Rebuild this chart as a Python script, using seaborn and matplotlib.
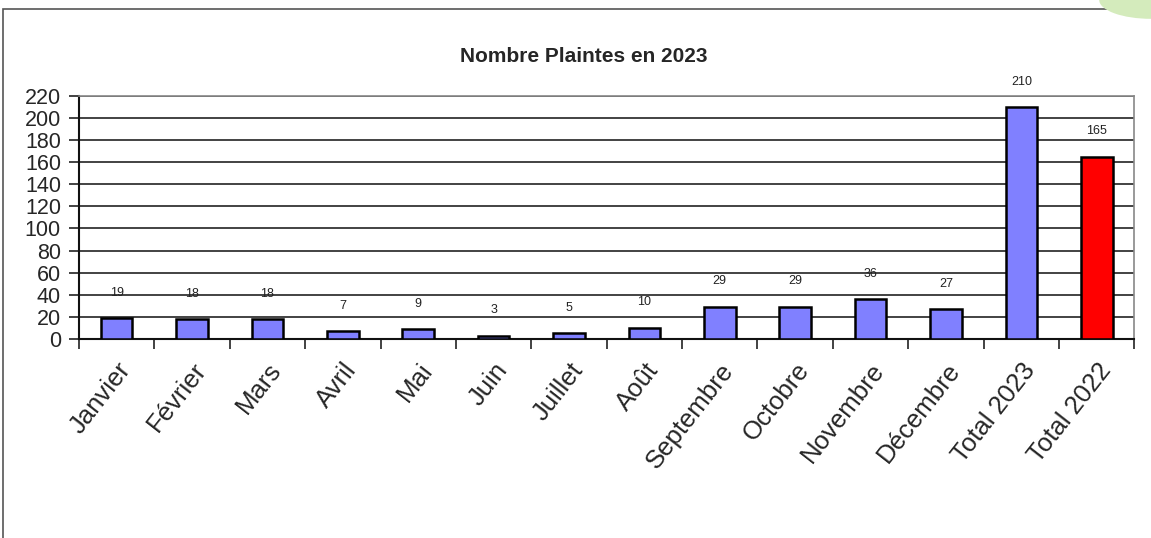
import matplotlib
matplotlib.use("Agg")
import matplotlib.pyplot as plt
import seaborn as sns
import pandas as pd
from matplotlib.patches import Rectangle, Ellipse

# donnees du graphique
mois = ["Janvier", "Février", "Mars", "Avril", "Mai", "Juin", "Juillet", "Août",
        "Septembre", "Octobre", "Novembre", "Décembre", "Total 2023", "Total 2022"]
plaintes = [19, 18, 18, 7, 9, 3, 5, 10, 29, 29, 36, 27, 210, 165]
couleurs = ["#8080FF"] * 13 + ["#FF0000"]
y_ticks = list(range(0, 221, 20))

sns.set_theme(style="white")
plt.rcParams['font.family'] = ['Liberation Sans', 'DejaVu Sans']

df = pd.DataFrame({"mois": mois, "plaintes": plaintes})

fig = plt.figure(figsize=(11.51, 5.38), dpi=100)
ax = fig.add_axes([0.0686, 0.370, 0.917, 0.4517])

sns.barplot(data=df, x="mois", y="plaintes", hue="mois", palette=couleurs,
            saturation=1, legend=False, width=0.42, edgecolor="black",
            linewidth=1.8, ax=ax, zorder=3)

# etiquettes de valeurs
for i, v in enumerate(plaintes):
    ax.annotate(str(v), (i, v), xytext=(0, 14), textcoords="offset points",
                ha="center", va="bottom", fontsize=9, color="#222222")

ax.set_ylim(0, 220)
ax.set_xlim(-0.5, len(mois) - 0.5)
ax.set_yticks(y_ticks)
ax.set_yticklabels([str(t) for t in y_ticks], fontsize=15.5,
                   family=['Liberation Sans Narrow', 'Liberation Sans', 'DejaVu Sans'])
ax.yaxis.grid(True, color="#222222", linewidth=1.2, zorder=0)
ax.set_axisbelow(True)

# ticks entre les categories
ax.set_xticks([i - 0.5 for i in range(len(mois) + 1)], minor=True)
ax.set_xticks(range(len(mois)))
ax.set_xticklabels(mois, rotation=52, ha="right", rotation_mode="anchor", fontsize=18.5)
ax.tick_params(axis="x", which="major", length=0, pad=14)
ax.tick_params(axis="x", which="minor", length=7, width=1.2, color="#222222", bottom=True)
ax.tick_params(axis="y", length=7, width=1.2, color="#222222", left=True, pad=6)

ax.set_xlabel("")
ax.set_ylabel("")
for side in ["left", "bottom"]:
    ax.spines[side].set_color("#111111")
    ax.spines[side].set_linewidth(1.5)
for side in ["top", "right"]:
    ax.spines[side].set_color("#888888")
    ax.spines[side].set_linewidth(1.2)

fig.text(0.507, 0.895, "Nombre Plaintes en 2023", ha="center", va="center",
         fontsize=15, fontweight="bold")

# cadre exterieur et coin vert
fig.patches.append(Rectangle((3 / 1151, -0.01), 1.0, 1 - 9 / 538 + 0.01,
                             transform=fig.transFigure, fill=False,
                             edgecolor="#555555", linewidth=1.2))
fig.patches.append(Ellipse((1.0, 1.0), 0.09, 0.07, transform=fig.transFigure,
                           facecolor="#D4EBBC", edgecolor="none"))

fig.savefig("out.png", dpi=100)
